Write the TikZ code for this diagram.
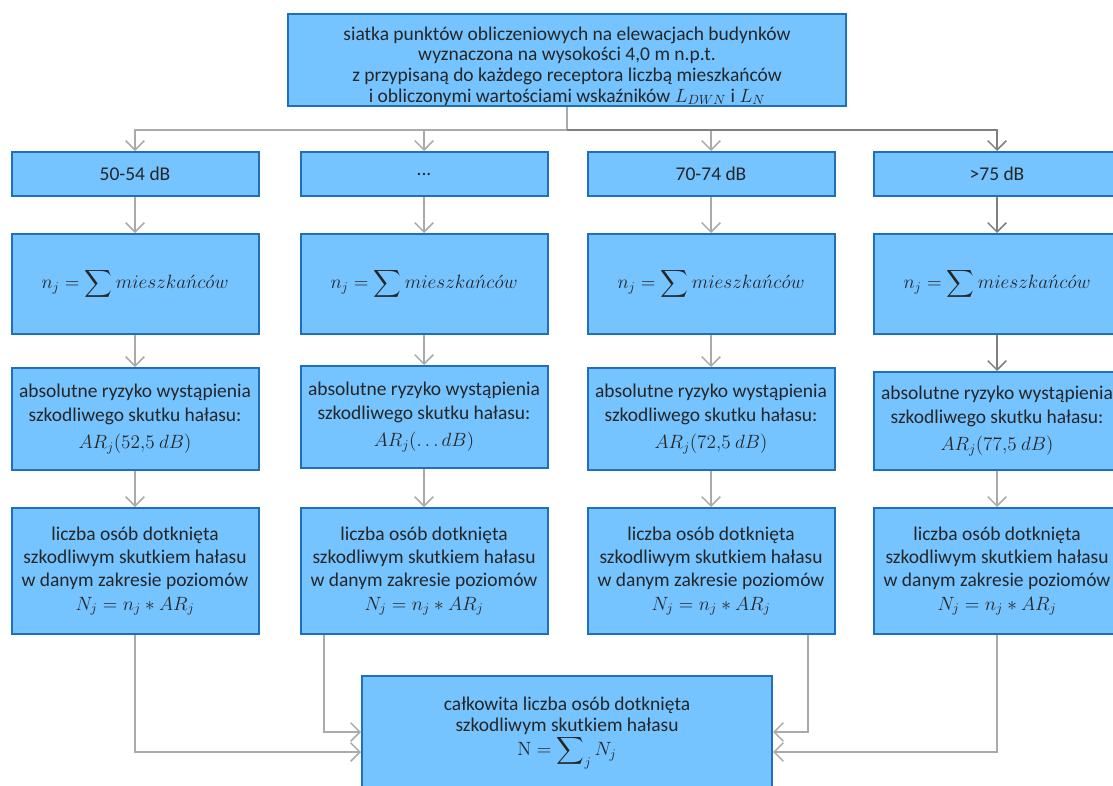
\documentclass[tikz,border=0pt]{standalone}
\usepackage{amsmath}
\usepackage[no-math]{fontspec}
\setmainfont{Carlito}
\usetikzlibrary{arrows.meta}
\usetikzlibrary{calc}

\definecolor{boxfill}{RGB}{117,195,255}
\definecolor{boxline}{RGB}{31,111,186}
\definecolor{linegray}{RGB}{170,170,170}
\definecolor{linedark}{RGB}{128,128,128}

\tikzset{
  box/.style={draw=boxline, fill=boxfill, line width=1.5pt, align=center,
    inner sep=0pt, text=black!85, font=\fontsize{14.6}{17.5}\selectfont,
    minimum width=185.25pt},
  link/.style={draw=linegray, line width=1.1pt,
    -{Straight Barb[length=7pt,width=14pt]}},
  linkdark/.style={link, draw=linedark},
}

\begin{document}
\begin{tikzpicture}[x=0.75pt, y=-0.75pt]

\useasboundingbox (0,0) rectangle (1113,785);
\clip (0,0) rectangle (1113,785);

%% Top box %%
\node[box, minimum width=418.5pt, minimum height=69pt,
  font=\fontsize{14.6}{15.5}\selectfont] (grid) at (567,60)
  {\rule{0pt}{19pt}siatka punktów obliczeniowych na elewacjach budynków\\
   wyznaczona na wysokości 4,0 m n.p.t.\\
   z przypisaną do każdego receptora liczbą mieszkańców\\
   i obliczonymi wartościami wskaźników $L_{DWN}$ i $L_N$};
\coordinate (split) at (567,130);

%% Level ranges %%
\node[box, minimum height=33pt] (dBa) at (135,174) {50-54 dB};
\node[box, minimum height=33pt] (dBb) at (424,174) {...};
\node[box, minimum height=33pt] (dBc) at (711,174) {70-74 dB};
\node[box, minimum height=33pt] (dBd) at (997,174) {>75 dB};

%% Residents %%
\node[box, minimum height=75pt] (na) at (135,284) {$n_j = \displaystyle\sum mieszka\acute{n}c\acute{o}w$};
\node[box, minimum height=75pt] (nb) at (424,284) {$n_j = \displaystyle\sum mieszka\acute{n}c\acute{o}w$};
\node[box, minimum height=75pt] (nc) at (711,284) {$n_j = \displaystyle\sum mieszka\acute{n}c\acute{o}w$};
\node[box, minimum height=75pt] (nd) at (997,284) {$n_j = \displaystyle\sum mieszka\acute{n}c\acute{o}w$};

%% Absolute risk %%
\node[box, minimum height=76.5pt] (ARa) at (135,419)
  {absolutne ryzyko wystąpienia\\ szkodliwego skutku hałasu:\\[3pt] $AR_j(52{,}5\ dB)$};
\node[box, minimum height=76.5pt] (ARb) at (424,417)
  {absolutne ryzyko wystąpienia\\ szkodliwego skutku hałasu:\\[3pt] $AR_j(\ldots dB)$};
\node[box, minimum height=76.5pt] (ARc) at (711,419)
  {absolutne ryzyko wystąpienia\\ szkodliwego skutku hałasu:\\[3pt] $AR_j(72{,}5\ dB)$};
\node[box, minimum height=73.5pt] (ARd) at (997,421)
  {absolutne ryzyko wystąpienia\\ szkodliwego skutku hałasu:\\[3pt] $AR_j(77{,}5\ dB)$};

%% Affected persons %%
\node[box, minimum height=94.5pt] (Na) at (135,571)
  {liczba osób dotknięta\\ szkodliwym skutkiem hałasu\\ w danym zakresie poziomów\\ $N_j = n_j * AR_j$};
\node[box, minimum height=94.5pt] (Nb) at (424,571)
  {liczba osób dotknięta\\ szkodliwym skutkiem hałasu\\ w danym zakresie poziomów\\ $N_j = n_j * AR_j$};
\node[box, minimum height=94.5pt] (Nc) at (711,571)
  {liczba osób dotknięta\\ szkodliwym skutkiem hałasu\\ w danym zakresie poziomów\\ $N_j = n_j * AR_j$};
\node[box, minimum height=94.5pt] (Nd) at (997,571)
  {liczba osób dotknięta\\ szkodliwym skutkiem hałasu\\ w danym zakresie poziomów\\ $N_j = n_j * AR_j$};

%% Total %%
\node[box, minimum width=307.5pt, minimum height=93pt,
  font=\fontsize{14.6}{15.5}\selectfont] (total) at (567,738)
  {całkowita liczba osób dotknięta\\ szkodliwym skutkiem hałasu\\ $\mathrm{N} = \displaystyle\sum\nolimits_j N_j$\\[2pt]};

%% Connection arrows %%
% split to columns %
\draw[link, -] (grid.south) -- (split);
\draw[link] (split) -| (dBa);
\draw[link] (split) -| (dBb);
\draw[link] (split) -| (dBc);
\draw[linkdark] (split) -| (dBd);

% down the columns %
\draw[link] (dBa) -- (na);
\draw[link] (na) -- (ARa);
\draw[link] (ARa) -- (Na);

\draw[link] (dBb) -- (nb);
\draw[link] (nb) -- (ARb);
\draw[link] (ARb) -- (Nb);

\draw[link] (dBc) -- (nc);
\draw[link] (nc) -- (ARc);
\draw[link] (ARc) -- (Nc);

\draw[linkdark] (dBd) -- (nd);
\draw[linkdark] (nd) -- (ARd);
\draw[link] (ARd) -- (Nd);

% into the total %
\draw[link] (Na.south) |- (total.west |- 0,752);
\draw[link] (Nb.south -| 324,0) |- (total.west |- 0,732);
\draw[link] (Nc.south -| 808,0) |- (total.east |- 0,732);
\draw[link] (Nd.south) |- (total.east |- 0,752);

\end{tikzpicture}
\end{document}
